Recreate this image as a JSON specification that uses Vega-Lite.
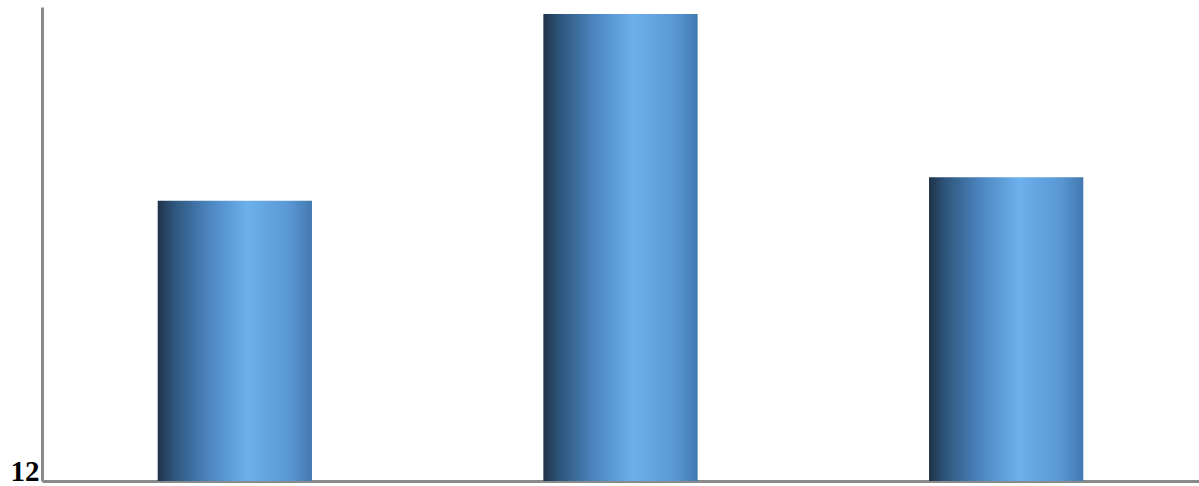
{
  "$schema": "https://vega.github.io/schema/vega-lite/v6.json",
  "width": 1157,
  "height": 474,
  "autosize": {"type": "none"},
  "padding": {"left": 42, "top": 7, "right": 0, "bottom": 5},
  "background": "white",
  "config": {"view": {"stroke": null}},
  "data": {
    "values": [
      {"category": "A", "value": 17.91},
      {"category": "B", "value": 21.85},
      {"category": "C", "value": 18.41}
    ]
  },
  "mark": {
    "type": "bar",
    "clip": true,
    "color": {
      "gradient": "linear",
      "x1": 0, "y1": 0, "x2": 1, "y2": 0,
      "stops": [
        {"offset": 0, "color": "#1f3248"},
        {"offset": 0.1, "color": "#2d5479"},
        {"offset": 0.32, "color": "#4a83bd"},
        {"offset": 0.58, "color": "#6cb0ec"},
        {"offset": 0.85, "color": "#5a98d4"},
        {"offset": 1, "color": "#4278b0"}
      ]
    }
  },
  "encoding": {
    "x": {
      "field": "category",
      "type": "nominal",
      "scale": {"paddingInner": 0.6, "paddingOuter": 0.3},
      "axis": {
        "title": null,
        "labels": false,
        "ticks": false,
        "domainColor": "#8a8a8a",
        "domainWidth": 3
      }
    },
    "y": {
      "field": "value",
      "type": "quantitative",
      "scale": {"domain": [12, 22], "nice": false, "zero": false},
      "axis": {
        "title": null,
        "values": [12],
        "ticks": false,
        "grid": false,
        "domainColor": "#8a8a8a",
        "domainWidth": 3,
        "labelFont": "Liberation Serif",
        "labelFontWeight": "bold",
        "labelFontSize": 29,
        "labelColor": "#000000",
        "labelBaseline": "alphabetic",
        "labelPadding": 3,
        "labelOffset": -1
      }
    },
    "y2": {"datum": 12}
  }
}
